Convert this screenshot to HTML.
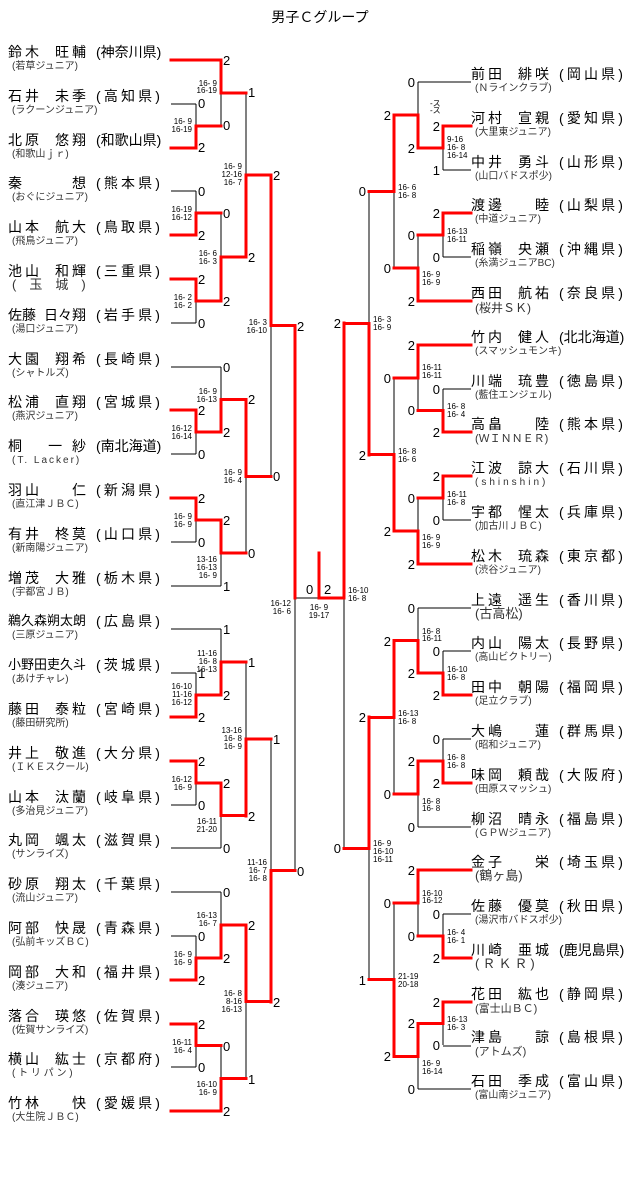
<!DOCTYPE html>
<html><head><meta charset="utf-8">
<style>
html,body{margin:0;padding:0;background:#fff;}
body{width:640px;height:1201px;position:relative;overflow:hidden;font-family:"Liberation Sans","Noto Sans CJK JP",sans-serif;color:#000;}
#t{position:absolute;left:0;width:640px;top:9px;text-align:center;font-size:14px;line-height:16px;}
.r{position:absolute;height:34px;width:170px;}
.nm{position:absolute;left:0;top:0;width:78px;display:flex;justify-content:space-between;font-size:14px;line-height:16px;font-weight:normal;white-space:nowrap;}
.nm i{font-style:normal;letter-spacing:3px;margin-right:-3px;flex-shrink:0;white-space:nowrap;}
.nm i.t{letter-spacing:0;margin-right:0;}
.nm.s3{font-size:13px;}
.pf{position:absolute;left:88px;top:0;width:64px;font-size:14px;line-height:16px;font-weight:normal;display:flex;justify-content:space-between;white-space:nowrap;}
.pf i{font-style:normal;}
.cl{position:absolute;left:4px;top:17px;font-size:10px;line-height:12px;color:#333;white-space:nowrap;}
svg{position:absolute;left:0;top:0;}
svg text{font-family:"Liberation Sans",sans-serif;}
.s{font-size:13px;}
.g{font-size:8px;}
</style></head><body>
<div id="t">男子Ｃグループ</div>

<!-- LEFT players -->
<div class="r" style="left:8px;top:44px"><b class="nm"><i>鈴木</i><i>旺輔</i></b><b class="pf"><i>(</i><i>神</i><i>奈</i><i>川</i><i>県</i><i>)</i></b><span class="cl">(若草ジュニア)</span></div>
<div class="r" style="left:8px;top:88px"><b class="nm"><i>石井</i><i>未季</i></b><b class="pf"><i>(</i><i>高</i><i>知</i><i>県</i><i>)</i></b><span class="cl">(ラクーンジュニア)</span></div>
<div class="r" style="left:8px;top:132px"><b class="nm"><i>北原</i><i>悠翔</i></b><b class="pf"><i>(</i><i>和</i><i>歌</i><i>山</i><i>県</i><i>)</i></b><span class="cl">(和歌山ｊｒ)</span></div>
<div class="r" style="left:8px;top:175px"><b class="nm"><i>秦</i><i>想</i></b><b class="pf"><i>(</i><i>熊</i><i>本</i><i>県</i><i>)</i></b><span class="cl">(おぐにジュニア)</span></div>
<div class="r" style="left:8px;top:219px"><b class="nm"><i>山本</i><i>航大</i></b><b class="pf"><i>(</i><i>鳥</i><i>取</i><i>県</i><i>)</i></b><span class="cl">(飛鳥ジュニア)</span></div>
<div class="r" style="left:8px;top:263px"><b class="nm"><i>池山</i><i>和輝</i></b><b class="pf"><i>(</i><i>三</i><i>重</i><i>県</i><i>)</i></b><span class="cl" style="font-size:13px;top:16px">(　玉　城　)</span></div>
<div class="r" style="left:8px;top:307px"><b class="nm"><i class="t">佐藤</i><i class="t">日々翔</i></b><b class="pf"><i>(</i><i>岩</i><i>手</i><i>県</i><i>)</i></b><span class="cl">(湯口ジュニア)</span></div>
<div class="r" style="left:8px;top:351px"><b class="nm"><i>大園</i><i>翔希</i></b><b class="pf"><i>(</i><i>長</i><i>崎</i><i>県</i><i>)</i></b><span class="cl">(シャトルズ)</span></div>
<div class="r" style="left:8px;top:394px"><b class="nm"><i>松浦</i><i>直翔</i></b><b class="pf"><i>(</i><i>宮</i><i>城</i><i>県</i><i>)</i></b><span class="cl">(燕沢ジュニア)</span></div>
<div class="r" style="left:8px;top:438px"><b class="nm"><i>桐</i><i>一 紗</i></b><b class="pf"><i>(</i><i>南</i><i>北</i><i>海</i><i>道</i><i>)</i></b><span class="cl" style="letter-spacing:2px">(T. Lacker)</span></div>
<div class="r" style="left:8px;top:482px"><b class="nm"><i>羽山</i><i>仁</i></b><b class="pf"><i>(</i><i>新</i><i>潟</i><i>県</i><i>)</i></b><span class="cl">(直江津ＪＢＣ)</span></div>
<div class="r" style="left:8px;top:526px"><b class="nm"><i>有井</i><i>柊莫</i></b><b class="pf"><i>(</i><i>山</i><i>口</i><i>県</i><i>)</i></b><span class="cl">(新南陽ジュニア)</span></div>
<div class="r" style="left:8px;top:570px"><b class="nm"><i>増茂</i><i>大雅</i></b><b class="pf"><i>(</i><i>栃</i><i>木</i><i>県</i><i>)</i></b><span class="cl">(宇都宮ＪＢ)</span></div>
<div class="r" style="left:8px;top:613px"><b class="nm s3"><i class="t">鵜久森</i><i class="t">朔太朗</i></b><b class="pf"><i>(</i><i>広</i><i>島</i><i>県</i><i>)</i></b><span class="cl">(三原ジュニア)</span></div>
<div class="r" style="left:8px;top:657px"><b class="nm s3"><i class="t">小野田</i><i class="t">吏久斗</i></b><b class="pf"><i>(</i><i>茨</i><i>城</i><i>県</i><i>)</i></b><span class="cl">(あけチャレ)</span></div>
<div class="r" style="left:8px;top:701px"><b class="nm"><i>藤田</i><i>泰粒</i></b><b class="pf"><i>(</i><i>宮</i><i>崎</i><i>県</i><i>)</i></b><span class="cl">(藤田研究所)</span></div>
<div class="r" style="left:8px;top:745px"><b class="nm"><i>井上</i><i>敬進</i></b><b class="pf"><i>(</i><i>大</i><i>分</i><i>県</i><i>)</i></b><span class="cl">(ＩＫＥスクール)</span></div>
<div class="r" style="left:8px;top:789px"><b class="nm"><i>山本</i><i>汰蘭</i></b><b class="pf"><i>(</i><i>岐</i><i>阜</i><i>県</i><i>)</i></b><span class="cl">(多治見ジュニア)</span></div>
<div class="r" style="left:8px;top:832px"><b class="nm"><i>丸岡</i><i>颯太</i></b><b class="pf"><i>(</i><i>滋</i><i>賀</i><i>県</i><i>)</i></b><span class="cl">(サンライズ)</span></div>
<div class="r" style="left:8px;top:876px"><b class="nm"><i>砂原</i><i>翔太</i></b><b class="pf"><i>(</i><i>千</i><i>葉</i><i>県</i><i>)</i></b><span class="cl">(流山ジュニア)</span></div>
<div class="r" style="left:8px;top:920px"><b class="nm"><i>阿部</i><i>快晟</i></b><b class="pf"><i>(</i><i>青</i><i>森</i><i>県</i><i>)</i></b><span class="cl">(弘前キッズＢＣ)</span></div>
<div class="r" style="left:8px;top:964px"><b class="nm"><i>岡部</i><i>大和</i></b><b class="pf"><i>(</i><i>福</i><i>井</i><i>県</i><i>)</i></b><span class="cl">(湊ジュニア)</span></div>
<div class="r" style="left:8px;top:1008px"><b class="nm"><i>落合</i><i>瑛悠</i></b><b class="pf"><i>(</i><i>佐</i><i>賀</i><i>県</i><i>)</i></b><span class="cl">(佐賀サンライズ)</span></div>
<div class="r" style="left:8px;top:1051px"><b class="nm"><i>横山</i><i>紘士</i></b><b class="pf"><i>(</i><i>京</i><i>都</i><i>府</i><i>)</i></b><span class="cl">( ト リ パ ン )</span></div>
<div class="r" style="left:8px;top:1095px"><b class="nm"><i>竹林</i><i>快</i></b><b class="pf"><i>(</i><i>愛</i><i>媛</i><i>県</i><i>)</i></b><span class="cl">(大生院ＪＢＣ)</span></div>

<!-- RIGHT players -->
<div class="r" style="left:471px;top:66px"><b class="nm"><i>前田</i><i>緋咲</i></b><b class="pf"><i>(</i><i>岡</i><i>山</i><i>県</i><i>)</i></b><span class="cl">(Ｎラインクラブ)</span></div>
<div class="r" style="left:471px;top:110px"><b class="nm"><i>河村</i><i>宣親</i></b><b class="pf"><i>(</i><i>愛</i><i>知</i><i>県</i><i>)</i></b><span class="cl">(大里東ジュニア)</span></div>
<div class="r" style="left:471px;top:154px"><b class="nm"><i>中井</i><i>勇斗</i></b><b class="pf"><i>(</i><i>山</i><i>形</i><i>県</i><i>)</i></b><span class="cl">(山口バドスポ少)</span></div>
<div class="r" style="left:471px;top:197px"><b class="nm"><i>渡邊</i><i>睦</i></b><b class="pf"><i>(</i><i>山</i><i>梨</i><i>県</i><i>)</i></b><span class="cl">(中道ジュニア)</span></div>
<div class="r" style="left:471px;top:241px"><b class="nm"><i>稲嶺</i><i>央瀬</i></b><b class="pf"><i>(</i><i>沖</i><i>縄</i><i>県</i><i>)</i></b><span class="cl">(糸満ジュニアBC)</span></div>
<div class="r" style="left:471px;top:285px"><b class="nm"><i>西田</i><i>航祐</i></b><b class="pf"><i>(</i><i>奈</i><i>良</i><i>県</i><i>)</i></b><span class="cl" style="font-size:12px">(桜井ＳＫ)</span></div>
<div class="r" style="left:471px;top:329px"><b class="nm"><i>竹内</i><i>健人</i></b><b class="pf"><i>(</i><i>北</i><i>北</i><i>海</i><i>道</i><i>)</i></b><span class="cl">(スマッシュモンキ)</span></div>
<div class="r" style="left:471px;top:373px"><b class="nm"><i>川端</i><i>琉豊</i></b><b class="pf"><i>(</i><i>徳</i><i>島</i><i>県</i><i>)</i></b><span class="cl">(藍住エンジェル)</span></div>
<div class="r" style="left:471px;top:416px"><b class="nm"><i>高畠</i><i>陸</i></b><b class="pf"><i>(</i><i>熊</i><i>本</i><i>県</i><i>)</i></b><span class="cl" style="font-size:11px">(ＷＩＮＮＥＲ)</span></div>
<div class="r" style="left:471px;top:460px"><b class="nm"><i>江波</i><i>諒大</i></b><b class="pf"><i>(</i><i>石</i><i>川</i><i>県</i><i>)</i></b><span class="cl" style="letter-spacing:3px">(shinshin)</span></div>
<div class="r" style="left:471px;top:504px"><b class="nm"><i>宇都</i><i>惺太</i></b><b class="pf"><i>(</i><i>兵</i><i>庫</i><i>県</i><i>)</i></b><span class="cl">(加古川ＪＢＣ)</span></div>
<div class="r" style="left:471px;top:548px"><b class="nm"><i>松木</i><i>琉森</i></b><b class="pf"><i>(</i><i>東</i><i>京</i><i>都</i><i>)</i></b><span class="cl">(渋谷ジュニア)</span></div>
<div class="r" style="left:471px;top:592px"><b class="nm"><i>上遠</i><i>遥生</i></b><b class="pf"><i>(</i><i>香</i><i>川</i><i>県</i><i>)</i></b><span class="cl" style="font-size:13px;top:16px">(古高松)</span></div>
<div class="r" style="left:471px;top:635px"><b class="nm"><i>内山</i><i>陽太</i></b><b class="pf"><i>(</i><i>長</i><i>野</i><i>県</i><i>)</i></b><span class="cl">(高山ビクトリー)</span></div>
<div class="r" style="left:471px;top:679px"><b class="nm"><i>田中</i><i>朝陽</i></b><b class="pf"><i>(</i><i>福</i><i>岡</i><i>県</i><i>)</i></b><span class="cl">(足立クラブ)</span></div>
<div class="r" style="left:471px;top:723px"><b class="nm"><i>大嶋</i><i>蓮</i></b><b class="pf"><i>(</i><i>群</i><i>馬</i><i>県</i><i>)</i></b><span class="cl">(昭和ジュニア)</span></div>
<div class="r" style="left:471px;top:767px"><b class="nm"><i>味岡</i><i>頼哉</i></b><b class="pf"><i>(</i><i>大</i><i>阪</i><i>府</i><i>)</i></b><span class="cl">(田原スマッシュ)</span></div>
<div class="r" style="left:471px;top:811px"><b class="nm"><i>柳沼</i><i>晴永</i></b><b class="pf"><i>(</i><i>福</i><i>島</i><i>県</i><i>)</i></b><span class="cl">(ＧＰＷジュニア)</span></div>
<div class="r" style="left:471px;top:854px"><b class="nm"><i>金子</i><i>栄</i></b><b class="pf"><i>(</i><i>埼</i><i>玉</i><i>県</i><i>)</i></b><span class="cl" style="font-size:13px;top:16px">(鶴ヶ島)</span></div>
<div class="r" style="left:471px;top:898px"><b class="nm"><i>佐藤</i><i>優莫</i></b><b class="pf"><i>(</i><i>秋</i><i>田</i><i>県</i><i>)</i></b><span class="cl">(湯沢市バドスポ少)</span></div>
<div class="r" style="left:471px;top:942px"><b class="nm"><i>川崎</i><i>亜城</i></b><b class="pf"><i>(</i><i>鹿</i><i>児</i><i>島</i><i>県</i><i>)</i></b><span class="cl" style="font-size:13px;top:16px;letter-spacing:3px">(ＲＫＲ)</span></div>
<div class="r" style="left:471px;top:986px"><b class="nm"><i>花田</i><i>紘也</i></b><b class="pf"><i>(</i><i>静</i><i>岡</i><i>県</i><i>)</i></b><span class="cl" style="font-size:11px">(富士山ＢＣ)</span></div>
<div class="r" style="left:471px;top:1029px"><b class="nm"><i>津島</i><i>諒</i></b><b class="pf"><i>(</i><i>島</i><i>根</i><i>県</i><i>)</i></b><span class="cl" style="font-size:11px">(アトムズ)</span></div>
<div class="r" style="left:471px;top:1073px"><b class="nm"><i>石田</i><i>季成</i></b><b class="pf"><i>(</i><i>富</i><i>山</i><i>県</i><i>)</i></b><span class="cl">(富山南ジュニア)</span></div>

<svg id="lines" width="640" height="1201" xmlns="http://www.w3.org/2000/svg"></svg>

<svg width="640" height="1201" xmlns="http://www.w3.org/2000/svg">
<g class="s">
<text x="223" y="65">2</text><text x="198" y="108">0</text><text x="198" y="152">2</text><text x="223" y="130">0</text>
<text x="248" y="97">1</text><text x="248" y="262">2</text><text x="198" y="196">0</text><text x="198" y="240">2</text>
<text x="223" y="218">0</text><text x="198" y="284">2</text><text x="198" y="328">0</text><text x="223" y="306">2</text>
<text x="273" y="180">2</text><text x="273" y="481">0</text><text x="297" y="331">2</text><text x="297" y="876">0</text>
<text x="223" y="372">0</text><text x="198" y="415">2</text><text x="198" y="459">0</text><text x="223" y="437">2</text>
<text x="248" y="404">2</text><text x="248" y="558">0</text><text x="198" y="503">2</text><text x="198" y="547">0</text>
<text x="223" y="525">2</text><text x="223" y="591">1</text>
<text x="223" y="634">1</text><text x="198" y="678">1</text><text x="198" y="722">2</text><text x="223" y="700">2</text>
<text x="248" y="667">1</text><text x="248" y="821">2</text><text x="198" y="766">2</text><text x="198" y="810">0</text>
<text x="223" y="788">2</text><text x="223" y="853">0</text><text x="273" y="744">1</text><text x="273" y="1007">2</text>
<text x="223" y="897">0</text><text x="198" y="941">0</text><text x="198" y="985">2</text><text x="223" y="963">2</text>
<text x="248" y="930">2</text><text x="248" y="1084">1</text><text x="198" y="1029">2</text><text x="198" y="1072">0</text>
<text x="223" y="1051">0</text><text x="223" y="1116">2</text>
<text x="306" y="594">0</text><text x="324" y="594">2</text>
</g>
<g class="s" text-anchor="end">
<text x="415" y="87">0</text><text x="415" y="153">2</text><text x="440" y="131">2</text><text x="440" y="175">1</text>
<text x="391" y="120">2</text><text x="391" y="273">0</text><text x="440" y="218">2</text><text x="440" y="262">0</text>
<text x="415" y="240">0</text><text x="415" y="306">2</text><text x="366" y="196">0</text><text x="366" y="460">2</text>
<text x="341" y="328">2</text><text x="341" y="853">0</text>
<text x="415" y="350">2</text><text x="415" y="415">0</text><text x="440" y="394">0</text><text x="440" y="437">2</text>
<text x="391" y="383">0</text><text x="391" y="536">2</text><text x="440" y="481">2</text><text x="440" y="525">0</text>
<text x="415" y="503">0</text><text x="415" y="569">2</text>
<text x="415" y="613">0</text><text x="415" y="678">2</text><text x="440" y="656">0</text><text x="440" y="700">2</text>
<text x="391" y="646">2</text><text x="391" y="799">0</text><text x="440" y="744">0</text><text x="440" y="788">2</text>
<text x="415" y="766">2</text><text x="415" y="832">0</text><text x="366" y="722">2</text><text x="366" y="985">1</text>
<text x="415" y="875">2</text><text x="415" y="941">0</text><text x="440" y="919">0</text><text x="440" y="963">2</text>
<text x="391" y="908">0</text><text x="391" y="1061">2</text><text x="440" y="1007">2</text><text x="440" y="1050">0</text>
<text x="415" y="1028">2</text><text x="415" y="1094">0</text>
</g>
<g class="g" text-anchor="end">
<text x="192" y="124">16- 9</text><text x="192" y="132">16-19</text>
<text x="217" y="86">16- 9</text><text x="217" y="93">16-19</text>
<text x="242" y="169">16- 9</text><text x="242" y="177">12-16</text><text x="242" y="185">16- 7</text>
<text x="192" y="212">16-19</text><text x="192" y="220">16-12</text>
<text x="192" y="300">16- 2</text><text x="192" y="308">16- 2</text>
<text x="217" y="256">16- 6</text><text x="217" y="264">16- 3</text>
<text x="267" y="325">16- 3</text><text x="267" y="333">16-10</text>
<text x="192" y="431">16-12</text><text x="192" y="439">16-14</text>
<text x="217" y="394">16- 9</text><text x="217" y="402">16-13</text>
<text x="192" y="519">16- 9</text><text x="192" y="527">16- 9</text>
<text x="217" y="562">13-16</text><text x="217" y="570">16-13</text><text x="217" y="578">16- 9</text>
<text x="242" y="475">16- 9</text><text x="242" y="483">16- 4</text>
<text x="291" y="606">16-12</text><text x="291" y="614">16- 6</text>
<text x="217" y="656">11-16</text><text x="217" y="664">16- 8</text><text x="217" y="672">16-13</text>
<text x="192" y="689">16-10</text><text x="192" y="697">11-16</text><text x="192" y="705">16-12</text>
<text x="242" y="733">13-16</text><text x="242" y="741">16- 8</text><text x="242" y="749">16- 9</text>
<text x="192" y="782">16-12</text><text x="192" y="790">16- 9</text>
<text x="217" y="824">16-11</text><text x="217" y="832">21-20</text>
<text x="267" y="865">11-16</text><text x="267" y="873">16- 7</text><text x="267" y="881">16- 8</text>
<text x="217" y="918">16-13</text><text x="217" y="926">16- 7</text>
<text x="192" y="957">16- 9</text><text x="192" y="965">16- 9</text>
<text x="242" y="996">16- 8</text><text x="242" y="1004">8-16</text><text x="242" y="1012">16-13</text>
<text x="192" y="1045">16-11</text><text x="192" y="1053">16- 4</text>
<text x="217" y="1087">16-10</text><text x="217" y="1095">16- 9</text>
</g>
<g class="g" text-anchor="middle">
<text x="319" y="610">16- 9</text><text x="319" y="618">19-17</text>
</g>
<g class="g">
<text x="430" y="106">-ス</text><text x="430" y="113">-ス</text>
<text x="447" y="142">9-16</text><text x="447" y="150">16- 8</text><text x="447" y="158">16-14</text>
<text x="398" y="190">16- 6</text><text x="398" y="198">16- 8</text>
<text x="447" y="234">16-13</text><text x="447" y="242">16-11</text>
<text x="422" y="277">16- 9</text><text x="422" y="285">16- 9</text>
<text x="373" y="322">16- 3</text><text x="373" y="330">16- 9</text>
<text x="348" y="593">16-10</text><text x="348" y="601">16- 8</text>
<text x="422" y="370">16-11</text><text x="422" y="378">16-11</text>
<text x="447" y="409">16- 8</text><text x="447" y="417">16- 4</text>
<text x="398" y="454">16- 8</text><text x="398" y="462">16- 6</text>
<text x="447" y="497">16-11</text><text x="447" y="505">16- 8</text>
<text x="422" y="540">16- 9</text><text x="422" y="548">16- 9</text>
<text x="422" y="634">16- 8</text><text x="422" y="641">16-11</text>
<text x="447" y="672">16-10</text><text x="447" y="680">16- 8</text>
<text x="398" y="716">16-13</text><text x="398" y="724">16- 8</text>
<text x="447" y="760">16- 8</text><text x="447" y="768">16- 8</text>
<text x="422" y="804">16- 8</text><text x="422" y="811">16- 8</text>
<text x="373" y="846">16- 9</text><text x="373" y="854">16-10</text><text x="373" y="862">16-11</text>
<text x="422" y="896">16-10</text><text x="422" y="903">16-12</text>
<text x="447" y="935">16- 4</text><text x="447" y="943">16- 1</text>
<text x="398" y="979">21-19</text><text x="398" y="987">20-18</text>
<text x="447" y="1022">16-13</text><text x="447" y="1030">16- 3</text>
<text x="422" y="1066">16- 9</text><text x="422" y="1074">16-14</text>
</g>
</svg>

<script>
(function(){
var svg=document.getElementById('lines'),NS='http://www.w3.org/2000/svg';
var blk=[],red=[];
function L(x1,y1,x2,y2,r){(r?red:blk).push([x1,y1,x2,y2]);}
var c=[196,221,246,271,295], rc=[443,418,394,369,344];
function ly(i){return Math.round(60+43.8*i);}
function ry(i){return Math.round(82+43.8*i);}
function M(x,y1,y2,top,nx){var m=(y1+y2)/2;L(x,y1,x,y2,0);if(top)L(x,y1,x,m,1);else L(x,m,x,y2,1);if(nx!=null)L(x,m,nx,m,1);}
[[0,1,1],[1,0,0],[2,0,1],[3,0,0],[4,0,1],[5,0,1],[6,0,0],[7,1,0],[8,0,1],[9,0,0],[10,0,1],[11,0,0],[12,1,0],
 [13,1,0],[14,0,0],[15,0,1],[16,0,1],[17,0,0],[18,1,0],[19,1,0],[20,0,0],[21,0,1],[22,0,1],[23,0,0],[24,1,1]]
.forEach(function(a){L(171,ly(a[0]),c[a[1]],ly(a[0]),a[2]);});
var lm=[[0,104,148,0],[1,60,126,1],[0,191,235,0],[0,279,323,1],[1,213,301,0],[2,93,257,0],
[0,410,454,1],[1,367,432,0],[0,498,542,1],[1,520,586,1],[2,399.5,553,1],[3,175,476,1],
[0,673,717,0],[1,629,695,0],[0,761,805,1],[1,783,848,1],[2,662,815.5,0],
[0,936,980,0],[1,892,958,0],[0,1024,1067,1],[1,1045.5,1111,0],[2,925,1078,1],[3,738.5,1001.5,0]];
lm.forEach(function(a){M(c[a[0]],Math.round(a[1]),Math.round(a[2]),a[3],c[a[0]+1]);});
L(295,326,295,871,0);L(295,326,295,598,1);L(295,598,344,598,0);
[[0,1,0],[1,0,1],[2,0,0],[3,0,1],[4,0,0],[5,1,1],[6,1,1],[7,0,0],[8,0,1],[9,0,1],[10,0,0],[11,1,1],
 [12,1,0],[13,0,0],[14,0,1],[15,0,0],[16,0,1],[17,1,0],[18,1,1],[19,0,0],[20,0,1],[21,0,1],[22,0,0],[23,1,0]]
.forEach(function(a){L(471,ry(a[0]),rc[a[1]],ry(a[0]),a[2]);});
var rm=[[0,126,170,1],[1,82,148,0],[0,213,257,1],[1,235,301,0],[2,115,268,1],
[0,389,432,0],[1,345,410.5,1],[0,476,520,1],[1,498,564,0],[2,377.5,531,0],[3,191.5,454.5,0],
[0,651,695,0],[1,608,673,0],[0,739,783,0],[1,761,827,1],[2,640.5,794,1],
[0,914,958,0],[1,870,936,1],[0,1002,1045,1],[1,1023.5,1089,1],[2,903,1056,0],[3,717,980,1]];
rm.forEach(function(a){M(rc[a[0]],Math.round(a[1]),Math.round(a[2]),a[3],rc[a[0]+1]);});
L(344,323,344,848,0);L(344,323,344,598,1);L(319,598,344,598,1);L(319,553,319,598,1);
function draw(arr,col,w){arr.forEach(function(s){var l=document.createElementNS(NS,'line');
l.setAttribute('x1',s[0]);l.setAttribute('y1',s[1]);l.setAttribute('x2',s[2]);l.setAttribute('y2',s[3]);
l.setAttribute('stroke',col);l.setAttribute('stroke-width',w);l.setAttribute('stroke-linecap',w>1?'square':'butt');
if(w==1)l.setAttribute('shape-rendering','crispEdges');svg.appendChild(l);});}
draw(blk,'#000',1);draw(red,'#ff0000',3);
})();
</script>
</body></html>
